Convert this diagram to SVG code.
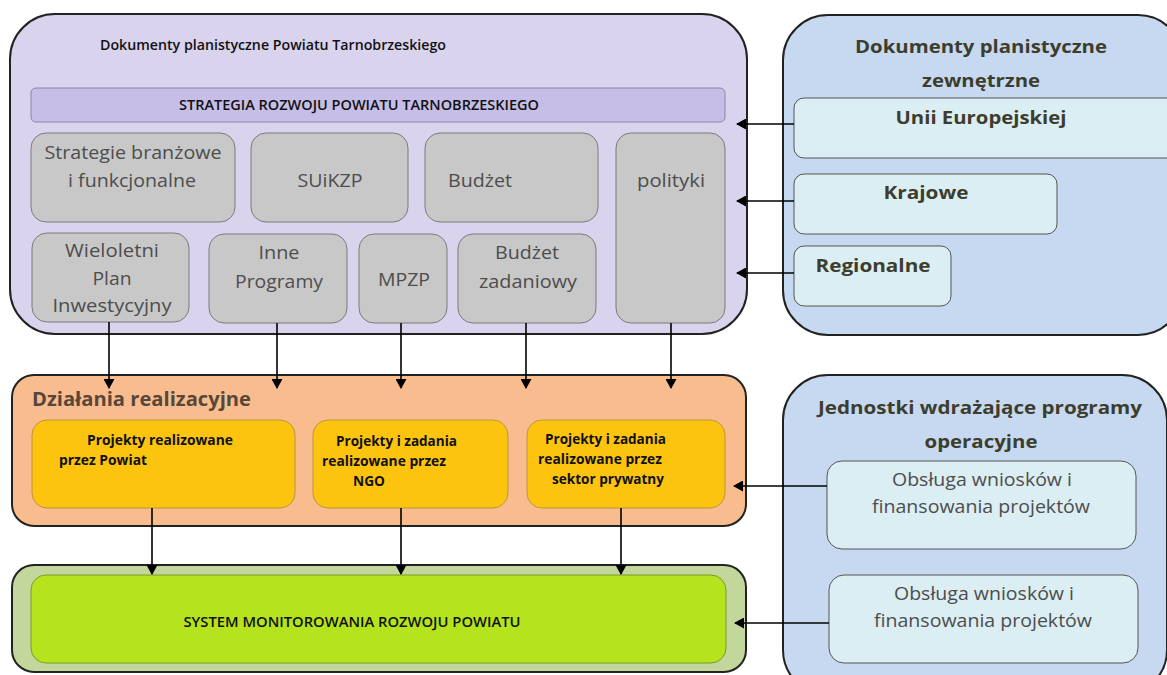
<svg xmlns="http://www.w3.org/2000/svg" width="1167" height="675" viewBox="0 0 1167 675">
<defs>
<marker id="ah" markerWidth="10" markerHeight="11" refX="9" refY="5.5" orient="auto" markerUnits="userSpaceOnUse">
<path d="M0,0 L10,5.5 L0,11 Z" fill="#000"/>
</marker>
<style>
text{font-family:"Open Sans","Noto Sans","Liberation Sans",sans-serif;}
.outer{stroke:#222;stroke-width:2;}
.gray{fill:#c8c8c8;stroke:#7a7a7a;stroke-width:1;}
.gt{font-size:19px;fill:#4d4d4d;}
.yel{fill:#fdc40f;stroke:#b8963c;stroke-width:1;}
.yt{font-size:14px;font-weight:bold;fill:#111;}
.cyan{fill:#dbeef4;stroke:#555;stroke-width:1;}
.bt{font-size:18px;font-weight:bold;fill:#3d3d2e;}
.ot{font-size:18px;fill:#4d4d4d;}
.conn line{stroke:#000;stroke-width:1.6;marker-end:url(#ah);}
</style>
</defs>
<rect width="1167" height="675" fill="#fff"/>

<g id="planistyczne-powiatu">
<rect class="outer" x="10" y="14" width="737" height="320" rx="45" fill="#dad3ee"/>
<text x="100" y="50" font-size="14" font-weight="600" fill="#111" textLength="346" lengthAdjust="spacingAndGlyphs">Dokumenty planistyczne Powiatu Tarnobrzeskiego</text>
</g>
<g id="strategia">
<rect x="31" y="88" width="694" height="34" rx="5" fill="#c6bee7" stroke="#8a84a8" stroke-width="1"/>
<text x="359" y="110" font-size="14" font-weight="600" fill="#111" text-anchor="middle" textLength="360" lengthAdjust="spacingAndGlyphs">STRATEGIA ROZWOJU POWIATU TARNOBRZESKIEGO</text>
</g>
<g id="strategie-branzowe">
<rect class="gray" x="31" y="133" width="204" height="89" rx="15"/>
<text class="gt" x="133" y="159" text-anchor="middle" textLength="177" lengthAdjust="spacingAndGlyphs">Strategie branżowe</text>
<text class="gt" x="132" y="187" text-anchor="middle" textLength="128" lengthAdjust="spacingAndGlyphs">i funkcjonalne</text>
</g>
<g id="suikzp">
<rect class="gray" x="251" y="133" width="157" height="89" rx="15"/>
<text class="gt" x="330" y="187" text-anchor="middle" textLength="65" lengthAdjust="spacingAndGlyphs">SUiKZP</text>
</g>
<g id="budzet">
<rect class="gray" x="425" y="133" width="173" height="89" rx="15"/>
<text class="gt" x="448" y="187" textLength="64" lengthAdjust="spacingAndGlyphs">Budżet</text>
</g>
<g id="polityki">
<rect class="gray" x="616" y="133" width="109" height="190" rx="15"/>
<text class="gt" x="671" y="187" text-anchor="middle" textLength="68" lengthAdjust="spacingAndGlyphs">polityki</text>
</g>
<g id="wpi">
<rect class="gray" x="32" y="233" width="157" height="89" rx="15"/>
<text class="gt" x="112" y="257" text-anchor="middle" textLength="94" lengthAdjust="spacingAndGlyphs">Wieloletni</text>
<text class="gt" x="112" y="285" text-anchor="middle" textLength="39" lengthAdjust="spacingAndGlyphs">Plan</text>
<text class="gt" x="112" y="312" text-anchor="middle" textLength="119" lengthAdjust="spacingAndGlyphs">Inwestycyjny</text>
</g>
<g id="inne-programy">
<rect class="gray" x="209" y="234" width="138" height="89" rx="15"/>
<text class="gt" x="279" y="259" text-anchor="middle" textLength="41" lengthAdjust="spacingAndGlyphs">Inne</text>
<text class="gt" x="279" y="288" text-anchor="middle" textLength="88" lengthAdjust="spacingAndGlyphs">Programy</text>
</g>
<g id="mpzp">
<rect class="gray" x="359" y="234" width="88" height="89" rx="15"/>
<text class="gt" x="404" y="286" text-anchor="middle" textLength="52" lengthAdjust="spacingAndGlyphs">MPZP</text>
</g>
<g id="budzet-zadaniowy">
<rect class="gray" x="458" y="234" width="138" height="89" rx="15"/>
<text class="gt" x="527" y="259" text-anchor="middle" textLength="64" lengthAdjust="spacingAndGlyphs">Budżet</text>
<text class="gt" x="528" y="288" text-anchor="middle" textLength="98" lengthAdjust="spacingAndGlyphs">zadaniowy</text>
</g>

<g id="zewnetrzne">
<rect class="outer" x="783" y="15" width="400" height="320" rx="45" fill="#c6d9f0"/>
<text class="bt" x="981" y="53" text-anchor="middle" textLength="252" lengthAdjust="spacingAndGlyphs">Dokumenty planistyczne</text>
<text class="bt" x="981" y="87" text-anchor="middle" textLength="118" lengthAdjust="spacingAndGlyphs">zewnętrzne</text>
</g>
<g id="unii">
<rect class="cyan" x="794" y="98" width="385" height="60" rx="10"/>
<text class="bt" x="981" y="124" text-anchor="middle" textLength="171" lengthAdjust="spacingAndGlyphs">Unii Europejskiej</text>
</g>
<g id="krajowe">
<rect class="cyan" x="794" y="174" width="263" height="60" rx="10"/>
<text class="bt" x="926" y="199" text-anchor="middle" textLength="85" lengthAdjust="spacingAndGlyphs">Krajowe</text>
</g>
<g id="regionalne">
<rect class="cyan" x="794" y="246" width="157" height="60" rx="10"/>
<text class="bt" x="873" y="272" text-anchor="middle" textLength="115" lengthAdjust="spacingAndGlyphs">Regionalne</text>
</g>

<g id="dzialania">
<rect class="outer" x="12" y="375" width="734" height="151" rx="22" fill="#f9bc8f"/>
<text x="32" y="406" font-size="20" font-weight="bold" fill="#56473a" textLength="219" lengthAdjust="spacingAndGlyphs">Działania realizacyjne</text>
</g>
<g id="projekty-powiat">
<rect class="yel" x="32" y="420" width="263" height="88" rx="15"/>
<text class="yt" x="87" y="445" textLength="146" lengthAdjust="spacingAndGlyphs">Projekty realizowane</text>
<text class="yt" x="59" y="465" textLength="88" lengthAdjust="spacingAndGlyphs">przez Powiat</text>
</g>
<g id="projekty-ngo">
<rect class="yel" x="313" y="420" width="195" height="88" rx="15"/>
<text class="yt" x="336" y="446" textLength="121" lengthAdjust="spacingAndGlyphs">Projekty i zadania</text>
<text class="yt" x="322" y="466" textLength="124" lengthAdjust="spacingAndGlyphs">realizowane przez</text>
<text class="yt" x="353" y="486" textLength="32" lengthAdjust="spacingAndGlyphs">NGO</text>
</g>
<g id="projekty-prywatny">
<rect class="yel" x="527" y="420" width="198" height="88" rx="15"/>
<text class="yt" x="545" y="444" textLength="121" lengthAdjust="spacingAndGlyphs">Projekty i zadania</text>
<text class="yt" x="538" y="464" textLength="124" lengthAdjust="spacingAndGlyphs">realizowane przez</text>
<text class="yt" x="552" y="484" textLength="112" lengthAdjust="spacingAndGlyphs">sektor prywatny</text>
</g>

<g id="system-monitorowania">
<rect class="outer" x="12" y="565" width="734" height="107" rx="22" fill="#c3d69b"/>
<rect x="31" y="575" width="695" height="88" rx="15" fill="#b5e31e" stroke="#7a9a2a" stroke-width="1"/>
<text x="352" y="627" font-size="14" font-weight="600" fill="#111" text-anchor="middle" textLength="337" lengthAdjust="spacingAndGlyphs">SYSTEM MONITOROWANIA ROZWOJU POWIATU</text>
</g>

<g id="jednostki">
<rect class="outer" x="783" y="375" width="384" height="320" rx="45" fill="#c6d9f0"/>
<text class="bt" x="980" y="414" text-anchor="middle" textLength="324" lengthAdjust="spacingAndGlyphs">Jednostki wdrażające programy</text>
<text class="bt" x="981" y="448" text-anchor="middle" textLength="113" lengthAdjust="spacingAndGlyphs">operacyjne</text>
</g>
<g id="obsluga-1">
<rect class="cyan" x="827" y="461" width="309" height="88" rx="15"/>
<text class="ot" x="982" y="486" text-anchor="middle" textLength="180" lengthAdjust="spacingAndGlyphs">Obsługa wniosków i</text>
<text class="ot" x="981" y="513" text-anchor="middle" textLength="218" lengthAdjust="spacingAndGlyphs">finansowania projektów</text>
</g>
<g id="obsluga-2">
<rect class="cyan" x="829" y="575" width="309" height="88" rx="15"/>
<text class="ot" x="984" y="600" text-anchor="middle" textLength="180" lengthAdjust="spacingAndGlyphs">Obsługa wniosków i</text>
<text class="ot" x="983" y="627" text-anchor="middle" textLength="218" lengthAdjust="spacingAndGlyphs">finansowania projektów</text>
</g>

<g id="connectors" class="conn">
<line x1="109" y1="322" x2="109" y2="388"/>
<line x1="277" y1="323" x2="277" y2="388"/>
<line x1="401" y1="323" x2="401" y2="388"/>
<line x1="526" y1="323" x2="526" y2="388"/>
<line x1="671" y1="323" x2="671" y2="388"/>
<line x1="152" y1="508" x2="152" y2="574"/>
<line x1="401" y1="508" x2="401" y2="574"/>
<line x1="621" y1="508" x2="621" y2="574"/>
<line x1="794" y1="124" x2="737" y2="124"/>
<line x1="794" y1="201" x2="737" y2="201"/>
<line x1="794" y1="273" x2="737" y2="273"/>
<line x1="827" y1="486" x2="734" y2="486"/>
<line x1="829" y1="623" x2="735" y2="623"/>
</g>
</svg>
